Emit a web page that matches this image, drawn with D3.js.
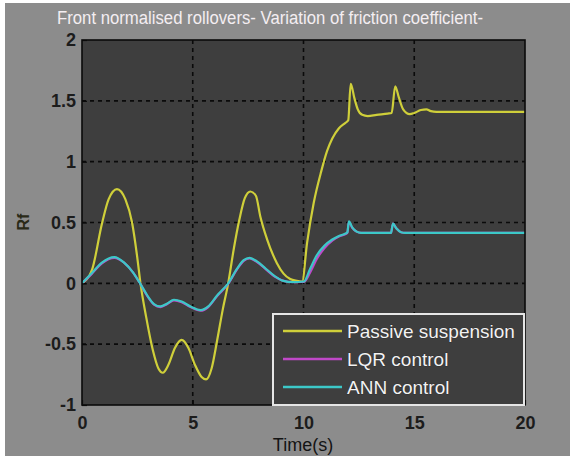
<!DOCTYPE html>
<html>
<head>
<meta charset="utf-8">
<script src="https://cdn.jsdelivr.net/npm/d3@7"></script>
<style>
  html, body { margin: 0; padding: 0; background: #ffffff; }
  svg { display: block; font-family: Arial, "Liberation Sans", sans-serif; }
</style>
</head>
<body>
<svg id="chart" width="572" height="460"></svg>
<script>
// Rollover index Rf over time for three suspension configurations
const timePassive = [0, 0.45, 0.9, 1.2, 1.58, 1.96, 2.26, 2.49, 2.64, 2.9, 3.2, 3.45, 3.65, 3.9, 4.2, 4.5, 4.8, 5.1, 5.4, 5.6, 5.85, 6.1, 6.35, 6.6, 6.85, 7.1, 7.35, 7.6, 7.85, 8.05, 8.36, 8.8, 9.1, 9.4, 9.7, 9.94, 10.16, 10.46, 10.8, 11.07, 11.3, 11.6, 11.9, 12.02, 12.13, 12.3, 12.45, 12.65, 12.9, 13.3, 13.8, 13.98, 14.14, 14.3, 14.5, 14.8, 15.0, 15.3, 15.55, 15.75, 16.0, 20];
const passive = [0, 0.11, 0.49, 0.69, 0.775, 0.69, 0.50, 0.22, 0.0, -0.28, -0.55, -0.70, -0.735, -0.67, -0.53, -0.465, -0.53, -0.67, -0.77, -0.79, -0.70, -0.47, -0.22, 0.0, 0.28, 0.52, 0.70, 0.755, 0.72, 0.55, 0.36, 0.166, 0.08, 0.035, 0.02, 0.015, 0.33, 0.66, 0.92, 1.09, 1.19, 1.275, 1.32, 1.34, 1.64, 1.52, 1.43, 1.385, 1.375, 1.385, 1.395, 1.40, 1.62, 1.53, 1.43, 1.39, 1.40, 1.425, 1.43, 1.415, 1.41, 1.41];

const timeControl = [0, 0.45, 0.9, 1.46, 1.9, 2.3, 2.62, 2.95, 3.25, 3.54, 3.85, 4.15, 4.5, 4.9, 5.35, 5.7, 6.1, 6.6, 7.0, 7.3, 7.57, 7.9, 8.3, 8.7, 9.1, 9.5, 10.02, 10.3, 10.6, 10.95, 11.3, 11.6, 11.9, 11.98, 12.05, 12.2, 12.4, 12.6, 13.5, 13.95, 14.04, 14.2, 14.4, 14.6, 20];
const lqr = [0, 0.08, 0.165, 0.21, 0.17, 0.09, 0.0, -0.105, -0.175, -0.195, -0.17, -0.14, -0.155, -0.195, -0.225, -0.195, -0.105, -0.005, 0.115, 0.185, 0.205, 0.175, 0.115, 0.055, 0.02, 0.01, 0.012, 0.09, 0.2, 0.29, 0.35, 0.385, 0.405, 0.415, 0.505, 0.455, 0.425, 0.415, 0.415, 0.415, 0.49, 0.45, 0.42, 0.415, 0.415];
const ann = [0, 0.085, 0.17, 0.215, 0.17, 0.09, 0.0, -0.10, -0.17, -0.19, -0.165, -0.135, -0.15, -0.19, -0.22, -0.19, -0.10, 0.0, 0.12, 0.19, 0.21, 0.18, 0.12, 0.06, 0.02, 0.01, 0.015, 0.12, 0.23, 0.31, 0.36, 0.39, 0.41, 0.42, 0.51, 0.46, 0.425, 0.415, 0.415, 0.415, 0.49, 0.45, 0.42, 0.415, 0.415];

const xTicks = [0, 5, 10, 15, 20];
const yTicks = [-1, -0.5, 0, 0.5, 1, 1.5, 2];
const seriesNames = ["Passive suspension", "LQR control", "ANN control"];
const seriesColors = ["#cfcf3a", "#c048c8", "#3cc8c8"];

const svg = d3.select("#chart");
const plot = { left: 82, top: 40, right: 525, bottom: 405 };

// figure background
svg.append("rect").attr("x", 5).attr("y", 3).attr("width", 565).attr("height", 453).attr("fill", "#8c8c8c");

const x = d3.scaleLinear().domain([0, 20]).range([plot.left, plot.right]);
const y = d3.scaleLinear().domain([-1, 2]).range([plot.bottom, plot.top]);

// axes background
svg.append("rect")
  .attr("x", plot.left).attr("y", plot.top)
  .attr("width", plot.right - plot.left).attr("height", plot.bottom - plot.top)
  .attr("fill", "#3e3e3e");

// dotted grid
const grid = svg.append("g").attr("stroke", "#0a0a0a").attr("stroke-width", 1.6).attr("stroke-dasharray", "4,4");
grid.selectAll("line.gx").data(xTicks.slice(1, -1)).join("line")
  .attr("x1", d => x(d)).attr("x2", d => x(d)).attr("y1", plot.top).attr("y2", plot.bottom);
grid.selectAll("line.gy").data(yTicks.slice(1, -1)).join("line")
  .attr("x1", plot.left).attr("x2", plot.right).attr("y1", d => y(d)).attr("y2", d => y(d));

// series lines
const line = d3.line().x(d => x(d[0])).y(d => y(d[1])).curve(d3.curveMonotoneX);
const seriesData = [
  d3.zip(timePassive, passive),
  d3.zip(timeControl, lqr),
  d3.zip(timeControl, ann)
];
svg.append("clipPath").attr("id", "plotclip").append("rect")
  .attr("x", plot.left).attr("y", plot.top).attr("width", plot.right - plot.left).attr("height", plot.bottom - plot.top);
const lines = svg.append("g").attr("clip-path", "url(#plotclip)");
seriesData.forEach((s, i) => {
  lines.append("path").datum(s)
    .attr("fill", "none")
    .attr("stroke", seriesColors[i])
    .attr("stroke-width", 2.2)
    .attr("stroke-linejoin", "round")
    .attr("d", line);
});

// axes with inward ticks and labels
const xAxis = d3.axisBottom(x).tickValues(xTicks).tickSize(-5).tickPadding(14).tickFormat(d3.format("d"));
const yAxis = d3.axisLeft(y).tickValues(yTicks).tickSize(-5).tickPadding(6).tickFormat(d => String(d));

const gx = svg.append("g").attr("transform", `translate(0,${plot.bottom})`).call(xAxis);
const gy = svg.append("g").attr("transform", `translate(${plot.left},0)`).call(yAxis);
[gx, gy].forEach(g => {
  g.select(".domain").remove();
  g.selectAll(".tick line").attr("stroke", "#0a0a0a").attr("stroke-width", 1.2);
  g.selectAll(".tick text").attr("fill", "#1c1c1c").attr("font-size", 18).attr("font-weight", "bold")
    .attr("font-family", "Arial, 'Liberation Sans', sans-serif");
});
gx.selectAll(".tick text").attr("dy", "0.55em");

// axes frame
svg.append("rect")
  .attr("x", plot.left).attr("y", plot.top)
  .attr("width", plot.right - plot.left).attr("height", plot.bottom - plot.top)
  .attr("fill", "none").attr("stroke", "#0a0a0a").attr("stroke-width", 1.6);

// title and axis labels
svg.append("text")
  .attr("x", 270).attr("y", 24).attr("text-anchor", "middle")
  .attr("font-size", 18).attr("fill", "#f4eef2")
  .attr("textLength", 426).attr("lengthAdjust", "spacingAndGlyphs")
  .text("Front normalised rollovers- Variation of friction coefficient-");

svg.append("text")
  .attr("transform", "translate(29,222) rotate(-90)")
  .attr("text-anchor", "middle").attr("font-size", 16).attr("font-weight", "bold").attr("fill", "#2a2a18")
  .text("Rf");

svg.append("text")
  .attr("x", 303).attr("y", 451).attr("text-anchor", "middle")
  .attr("font-size", 18).attr("fill", "#141414")
  .text("Time(s)");

// legend
const legend = svg.append("g");
legend.append("rect")
  .attr("x", 273).attr("y", 314).attr("width", 251).attr("height", 91)
  .attr("fill", "#3e3e3e").attr("stroke", "#e6e6e6").attr("stroke-width", 2);
seriesNames.forEach((name, i) => {
  const cy = 331 + i * 28;
  legend.append("line")
    .attr("x1", 283).attr("x2", 342).attr("y1", cy).attr("y2", cy)
    .attr("stroke", seriesColors[i]).attr("stroke-width", 2.4);
  legend.append("text")
    .attr("x", 347).attr("y", cy + 7)
    .attr("font-size", 19).attr("fill", "#f2f2f2")
    .attr("stroke", "#202020").attr("stroke-width", 0.6).attr("paint-order", "stroke")
    .text(name);
});
</script>
</body>
</html>
